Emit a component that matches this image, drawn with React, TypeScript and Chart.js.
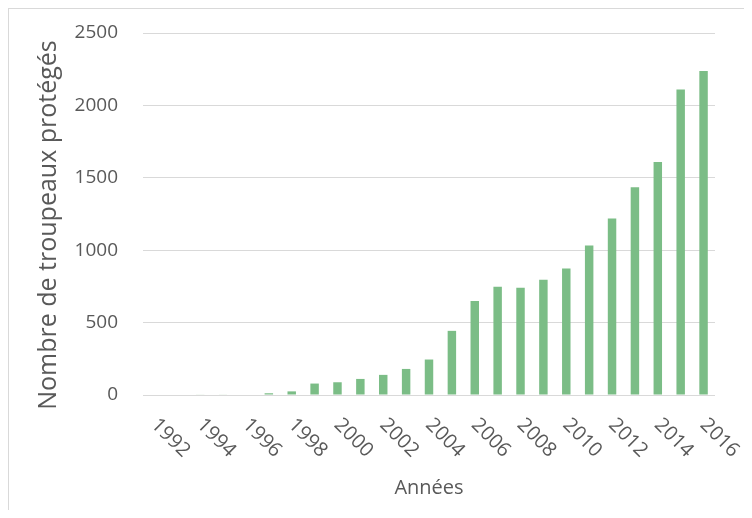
import React, { useEffect, useRef } from "react";
import { Chart, registerables } from "chart.js";

Chart.register(...registerables);

const years = [
  "1992", "1993", "1994", "1995", "1996", "1997", "1998", "1999", "2000",
  "2001", "2002", "2003", "2004", "2005", "2006", "2007", "2008", "2009",
  "2010", "2011", "2012", "2013", "2014", "2015", "2016",
];
const herds = [
  0, 0, 4, 4, 0, 12, 25, 79, 88, 111, 139, 180, 245, 443, 649, 748, 741,
  796, 873, 1032, 1219, 1434, 1609, 2110, 2237,
];
const shownTickLabels = [
  "1992", "1994", "1996", "1998", "2000", "2002", "2004", "2006", "2008",
  "2010", "2012", "2014", "2016",
];
const yTitle = "Nombre de troupeaux protégés";
const xTitle = "Années";

const FONT = "'Open Sans', 'Noto Sans', sans-serif";
const TEXT = "#595959";

const customText = {
  id: "customText",
  afterDraw(chart: any) {
    const ctx = chart.ctx;
    const xs = chart.scales.x;
    const { top, bottom } = chart.chartArea;
    ctx.save();
    ctx.font = `20px ${FONT}`;
    ctx.fillStyle = TEXT;
    ctx.textAlign = "center";
    ctx.textBaseline = "middle";
    years.forEach((y, i) => {
      if (!shownTickLabels.includes(y)) return;
      const x = xs.getPixelForValue(i);
      ctx.save();
      ctx.translate(x + 16, bottom + 43);
      ctx.rotate(Math.PI / 4);
      ctx.fillText(y, 0, 0);
      ctx.restore();
    });
    ctx.save();
    ctx.font = `25px ${FONT}`;
    ctx.translate(40, (top + bottom) / 2 + 11);
    ctx.rotate(-Math.PI / 2);
    ctx.fillText(yTitle, 0, 0);
    ctx.restore();
    ctx.restore();
  },
};

export default function App() {
  const ref = useRef<HTMLCanvasElement>(null);
  useEffect(() => {
    if (!ref.current) return;
    const chart = new Chart(ref.current, {
      type: "bar",
      data: {
        labels: years,
        datasets: [
          {
            data: herds,
            backgroundColor: "#7bbd86",
            categoryPercentage: 1,
            barPercentage: 0.37,
          },
        ],
      },
      options: {
        animation: false,
        responsive: false,
        maintainAspectRatio: false,
        layout: { padding: { left: 10, right: 32, top: 24, bottom: 0 } },
        plugins: { legend: { display: false }, tooltip: { enabled: false } },
        scales: {
          x: {
            grid: { display: false },
            border: { display: false },
            ticks: { display: false },
            title: {
              display: true,
              text: xTitle,
              color: TEXT,
              font: { family: FONT, size: 20 },
              padding: { top: 73, bottom: 10 },
            },
          },
          y: {
            min: 0,
            max: 2500,
            ticks: {
              stepSize: 500,
              color: TEXT,
              font: { family: FONT, size: 19 },
              padding: 25,
              callback: (v: any) => String(v),
            },
            grid: { color: "#d9d9d9", drawTicks: false, lineWidth: 1 },
            border: { display: false },
            afterFit(scale: any) {
              scale.width = 124;
              scale.paddingTop = 0;
              scale.paddingBottom = 0;
            },
          },
        },
      },
      plugins: [customText],
    });
    return () => chart.destroy();
  }, []);
  return (
    <div
      style={{
        width: 740,
        height: 502,
        border: "1px solid #d9d9d9",
        borderBottom: "none",
        boxSizing: "border-box",
        background: "#fff",
      }}
    >
      <canvas ref={ref} width={738} height={501} style={{ display: "block" }} />
    </div>
  );
}
